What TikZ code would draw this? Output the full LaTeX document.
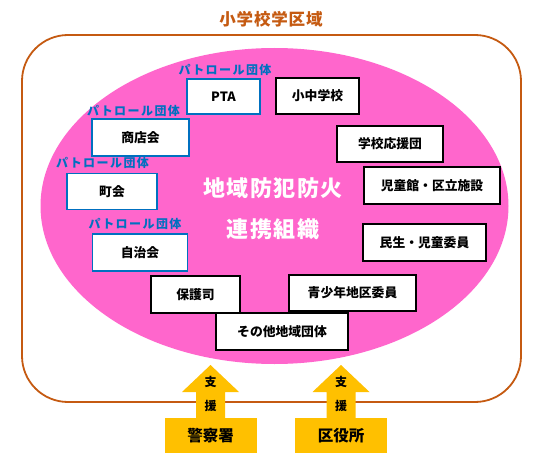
\documentclass[tikz,border=0pt]{standalone}
\usepackage{fontspec}
\setmainfont{Noto Sans CJK JP}
\newfontfamily\labelfont{Noto Sans CJK JP}[LetterSpace=12]
\newfontfamily\bigfont{Noto Sans CJK JP}[LetterSpace=7]
\newfontfamily\titlefont{Noto Sans CJK JP}[LetterSpace=5]
\definecolor{zoneorange}{HTML}{C55A11}
\definecolor{orgpink}{HTML}{FF66CC}
\definecolor{patblue}{HTML}{0070C0}
\definecolor{supgold}{HTML}{FFC000}
\begin{document}
\begin{tikzpicture}[x=1pt,y=-1pt,
  member/.style={draw=black,line width=1.5pt,fill=white,inner sep=0pt,font=\fontsize{12.8}{14}\selectfont\bfseries},
  patrolbox/.style={draw=patblue,line width=1.5pt,fill=white,inner sep=0pt,font=\fontsize{12.8}{14}\selectfont\bfseries},
  patrollabel/.style={text=patblue,inner sep=0pt,font=\labelfont\fontsize{12}{13}\selectfont\bfseries},
  supbox/.style={fill=supgold,inner sep=0pt,minimum width=92pt,minimum height=35pt,font=\fontsize{15.5}{17}\selectfont\bfseries},
  suptext/.style={inner sep=0pt,font=\fontsize{12}{13}\selectfont\bfseries},
  centertext/.style={text=white,inner sep=0pt,font=\bigfont\fontsize{22}{24}\selectfont\bfseries}]
\useasboundingbox[fill=white] (0,0) rectangle (539,460);
% title and zone
\node[text=zoneorange,inner sep=0pt,font=\titlefont\fontsize{16.5}{18}\selectfont\bfseries] (title) at (271,19) {小学校学区域};
\draw[zoneorange,line width=1.8pt,rounded corners=46pt] (22,35) rectangle (521,402);
% organisation ellipse
\fill[orgpink] (274.5,206) ellipse [x radius=234, y radius=158];
\node[centertext] (c1) at (273,188) {地域防犯防火};
\node[centertext] (c2) at (273,229) {連携組織};
% patrol groups
\node[patrolbox,minimum width=73pt,minimum height=35pt] (pta) at (223.5,96.5) {PTA};
\node[patrolbox,minimum width=97pt,minimum height=37pt] (shop) at (140.5,137.5) {商店会};
\node[patrolbox,minimum width=90pt,minimum height=36pt] (town) at (112,191.5) {町会};
\node[patrolbox,minimum width=95pt,minimum height=37pt] (self) at (140,252.5) {自治会};
\node[patrollabel] (l1) at (225,70) {パトロール団体};
\node[patrollabel] (l2) at (133.5,111) {パトロール団体};
\node[patrollabel] (l3) at (102.5,163) {パトロール団体};
\node[patrollabel] (l4) at (135,224) {パトロール団体};
% other members
\node[member,minimum width=83pt,minimum height=36pt] (school) at (317.5,96) {小中学校};
\node[member,minimum width=106pt,minimum height=36pt] (support) at (390,144) {学校応援団};
\node[member,minimum width=136pt,minimum height=37pt] (child) at (432,185.5) {児童館・区立施設};
\node[member,minimum width=123pt,minimum height=37pt] (welfare) at (424.5,242.5) {民生・児童委員};
\node[member,minimum width=89pt,minimum height=37pt] (proba) at (195.5,294.5) {保護司};
\node[member,minimum width=127pt,minimum height=36pt] (youth) at (352.5,293) {青少年地区委員};
\node[member,minimum width=132pt,minimum height=37pt] (other) at (282,331.5) {その他地域団体};
% support arrows
\node[supbox] (police) at (210.5,435.5) {警察署};
\node[supbox] (ward) at (341,435.5) {区役所};
\coordinate (ptip) at (210.5,365);
\coordinate (wtip) at (341,365);
\fill[supgold] (ptip) -- ++(28.5,27) -- ++(-14,0) -- (police.north -| 225,0) -- (police.north -| 196,0) -- (196,392) -- ++(-14,0) -- cycle;
\fill[supgold] (wtip) -- ++(28.5,27) -- ++(-14,0) -- (ward.north -| 355.5,0) -- (ward.north -| 326.5,0) -- (326.5,392) -- ++(-14,0) -- cycle;
\node[suptext] (ps1) at (210.5,382) {支};
\node[suptext] (ps2) at (210.5,405.5) {援};
\node[suptext] (ws1) at (341,382) {支};
\node[suptext] (ws2) at (341,405.5) {援};
\end{tikzpicture}
\end{document}
